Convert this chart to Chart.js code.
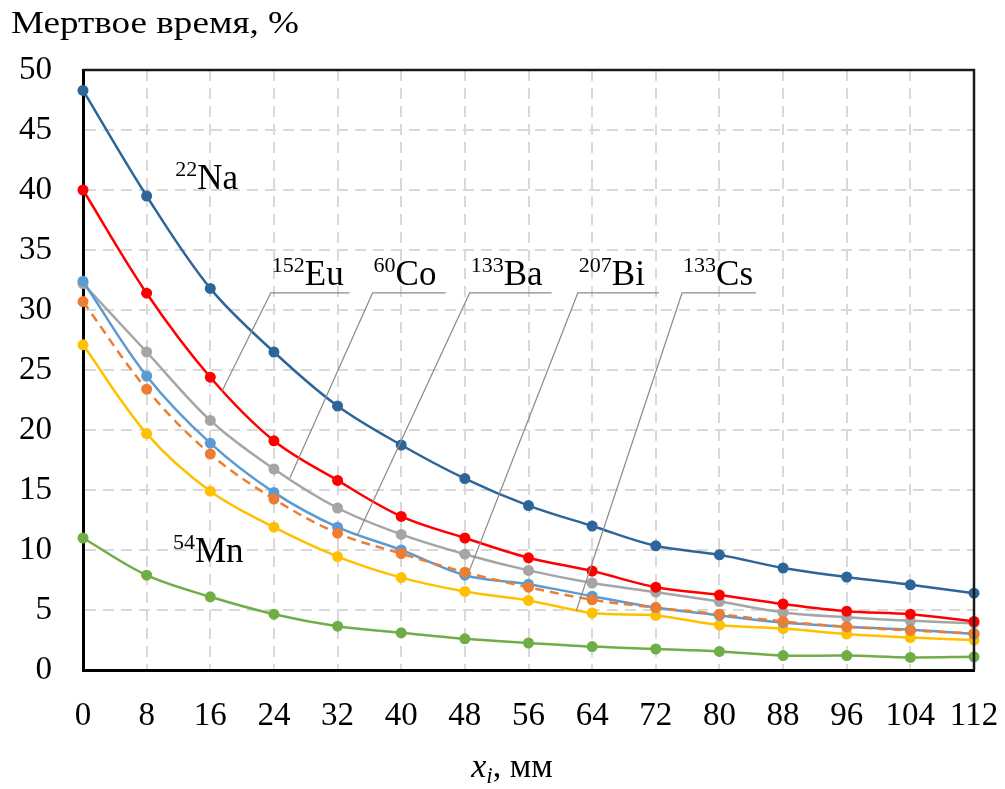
<!DOCTYPE html>
<html>
<head>
<meta charset="utf-8">
<script src="https://cdn.jsdelivr.net/npm/chart.js@4.4.0/dist/chart.umd.min.js"></script>
<style>
  html, body { margin: 0; padding: 0; background: #fff; }
  #wrap { width: 1005px; height: 789px; }
</style>
</head>
<body>
<div id="wrap"><canvas id="mycanvas" width="1005" height="789"></canvas></div>
<script>
// distance x_i, mm
var xTicks = [0, 8, 16, 24, 32, 40, 48, 56, 64, 72, 80, 88, 96, 104, 112];

// dead time, %
var na22  = [48.3, 39.5, 31.8, 26.5, 22.0, 18.75, 15.95, 13.7, 12.0, 10.35, 9.6, 8.5, 7.75, 7.1, 6.4];
var eu152 = [40.0, 31.4, 24.4, 19.1, 15.8, 12.8, 11.0, 9.35, 8.25, 6.9, 6.25, 5.5, 4.9, 4.65, 4.05];
var co60  = [32.2, 26.5, 20.8, 16.75, 13.5, 11.3, 9.65, 8.3, 7.25, 6.5, 5.7, 4.8, 4.4, 4.1, 3.9];
var ba133 = [32.4, 24.5, 18.9, 14.8, 11.9, 10.0, 7.9, 7.15, 6.15, 5.2, 4.55, 3.95, 3.6, 3.35, 3.0];
var bi207 = [30.7, 23.4, 18.0, 14.25, 11.4, 9.7, 8.15, 6.9, 5.85, 5.2, 4.65, 4.05, 3.6, 3.3, 3.05];
var cs133 = [27.1, 19.7, 14.9, 11.9, 9.45, 7.7, 6.55, 5.8, 4.75, 4.55, 3.75, 3.45, 3.0, 2.7, 2.5];
var mn54  = [11.0, 7.9, 6.1, 4.65, 3.65, 3.1, 2.6, 2.25, 1.95, 1.75, 1.55, 1.2, 1.2, 1.05, 1.1];

var yTicks = [0, 5, 10, 15, 20, 25, 30, 35, 40, 45, 50];

// isotope labels: [mass, symbol, underline x1, underline x2, leader end x, leader end y]
var leaderLabels = [
  ["152", "Eu", 23.6, 33.5, 17.45, 23.2],
  ["60",  "Co", 36.4, 45.6, 26.0, 16.0],
  ["133", "Ba", 48.6, 58.9, 34.5, 11.25],
  ["207", "Bi", 62.2, 72.4, 48.6, 8.33],
  ["133", "Cs", 75.3, 84.6, 62.0, 4.92]
];
var leaderY = 31.42;
var leaderTextY = 32.1;
// free labels: [mass, symbol, x, y]
var freeLabels = [
  ["22", "Na", 11.6, 40.1],
  ["54", "Mn", 11.3, 9.0]
];

var SERIF = '"Liberation Serif", "Times New Roman", serif';

function pts(arr) {
  return xTicks.map(function(x, i) { return { x: x, y: arr[i] }; });
}

function series(label, arr, color, dashed) {
  return {
    label: label,
    data: pts(arr),
    borderColor: color,
    backgroundColor: color,
    pointBackgroundColor: color,
    pointBorderColor: color,
    pointBorderWidth: 0,
    pointRadius: 5.5,
    borderWidth: 2.5,
    borderDash: dashed ? [9, 6] : [],
    tension: 0.35,
    fill: false,
    clip: false
  };
}

function isotope(ctx, mass, sym, x, y) {
  ctx.textBaseline = 'alphabetic';
  ctx.textAlign = 'left';
  ctx.font = '22px ' + SERIF;
  ctx.fillText(mass, x, y - 13);
  var w = ctx.measureText(mass).width;
  ctx.font = '35px ' + SERIF;
  ctx.fillText(sym, x + w, y);
}

var decorPlugin = {
  id: 'decor',
  afterDraw: function(chart) {
    var ctx = chart.ctx, xs = chart.scales.x, ys = chart.scales.y, a = chart.chartArea;
    ctx.save();
    // frame top and right
    ctx.strokeStyle = '#1a1a1a';
    ctx.lineWidth = 2.5;
    ctx.beginPath();
    ctx.moveTo(a.left, a.top);
    ctx.lineTo(a.right, a.top);
    ctx.lineTo(a.right, a.bottom);
    ctx.stroke();

    // leader lines
    ctx.strokeStyle = '#8c8c8c';
    ctx.lineWidth = 1.2;
    ctx.fillStyle = '#000';
    leaderLabels.forEach(function(l) {
      var x1 = xs.getPixelForValue(l[2]), x2 = xs.getPixelForValue(l[3]);
      var yl = ys.getPixelForValue(leaderY);
      ctx.beginPath();
      ctx.moveTo(x2, yl);
      ctx.lineTo(x1, yl);
      ctx.lineTo(xs.getPixelForValue(l[4]), ys.getPixelForValue(l[5]));
      ctx.stroke();
      isotope(ctx, l[0], l[1], x1 + 1, ys.getPixelForValue(leaderTextY));
    });
    freeLabels.forEach(function(l) {
      isotope(ctx, l[0], l[1], xs.getPixelForValue(l[2]), ys.getPixelForValue(l[3]));
    });

    // y axis title (stretched a little to match the original width)
    ctx.save();
    ctx.translate(11, 33);
    ctx.scale(1.16, 1);
    ctx.font = '32px ' + SERIF;
    ctx.textAlign = 'left';
    ctx.fillText('Мертвое время, %', 0, 0);
    ctx.restore();

    // x axis title, centred under the plot
    var by = 777;
    ctx.font = 'italic 34px ' + SERIF;
    var wx = ctx.measureText('x').width;
    ctx.font = 'italic 23px ' + SERIF;
    var wi = ctx.measureText('i').width;
    ctx.font = '34px ' + SERIF;
    var wr = ctx.measureText(', мм').width;
    var cx = 512 - (wx + wi + wr) / 2;
    ctx.font = 'italic 34px ' + SERIF;
    ctx.fillText('x', cx, by);
    ctx.font = 'italic 23px ' + SERIF;
    ctx.fillText('i', cx + wx, by + 6);
    ctx.font = '34px ' + SERIF;
    ctx.fillText(', мм', cx + wx + wi, by);
    ctx.restore();
  }
};

var ctx = document.getElementById('mycanvas');

var chart = new Chart(ctx, {
  type: 'line',
  data: {
    datasets: [
      series('22Na', na22, '#2e6599', false),
      series('152Eu', eu152, '#ff0000', false),
      series('207Bi', bi207, '#ed7d31', true),
      series('133Ba', ba133, '#5b9bd5', false),
      series('60Co', co60, '#a5a5a5', false),
      series('133Cs', cs133, '#ffc000', false),
      series('54Mn', mn54, '#70ad47', false)
    ]
  },
  options: {
    responsive: false,
    animation: false,
    layout: { padding: { top: 70, right: 31, left: 0, bottom: 0 } },
    plugins: {
      legend: { display: false },
      tooltip: { enabled: false },
      title: { display: false }
    },
    scales: {
      x: {
        type: 'linear',
        min: 0,
        max: 112,
        afterFit: function(s) { s.height = 119; s.paddingLeft = 0; s.paddingRight = 0; },
        afterBuildTicks: function(s) { s.ticks = xTicks.map(function(v) { return { value: v }; }); },
        ticks: {
          font: { family: SERIF, size: 33 },
          color: '#000',
          padding: 27,
          maxRotation: 0,
          autoSkip: false
        },
        grid: { color: '#d9d9d9', lineWidth: 2, drawTicks: false },
        border: { color: '#000', width: 3, dash: [11, 7] }
      },
      y: {
        min: 0,
        max: 50,
        afterFit: function(s) { s.width = 83; s.paddingTop = 0; s.paddingBottom = 0; },
        afterBuildTicks: function(s) { s.ticks = yTicks.map(function(v) { return { value: v }; }); },
        ticks: {
          font: { family: SERIF, size: 33 },
          color: '#000',
          padding: 31
        },
        grid: { color: '#d9d9d9', lineWidth: 2, drawTicks: false },
        border: { color: '#000', width: 3, dash: [11, 7] }
      }
    }
  },
  plugins: [decorPlugin]
});
</script>
</body>
</html>
